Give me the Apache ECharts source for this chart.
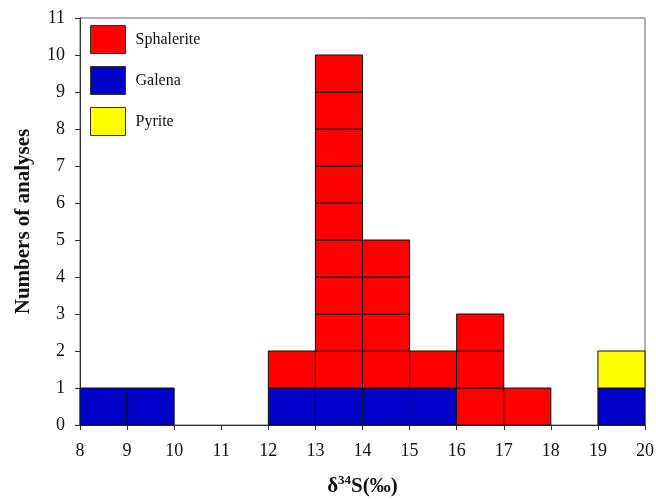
<!DOCTYPE html>
<html><head><meta charset="utf-8">
<script src="https://cdn.jsdelivr.net/npm/echarts@6/dist/echarts.min.js"></script>
<style>html,body{margin:0;padding:0;background:#fff}#c{width:656px;height:500px}</style>
</head><body><div id="c"></div>
<script>
// Bin lower edges (δ34S ‰), each bin is 1 ‰ wide
const binStarts = [8, 9, 10, 11, 12, 13, 14, 15, 16, 17, 18, 19];
const galena     = [1, 1, 0, 0, 1, 1, 1, 1, 0, 0, 0, 1];
const sphalerite = [0, 0, 0, 0, 1, 9, 4, 1, 3, 1, 0, 0];
const pyrite     = [0, 0, 0, 0, 0, 0, 0, 0, 0, 0, 0, 1];
const yTicks = [0,1,2,3,4,5,6,7,8,9,10,11];
const xTicks = [8,9,10,11,12,13,14,15,16,17,18,19,20];

const serif = 'Liberation Serif';
function stackData(counts, lowers) {
  return binStarts.map((b, i) => {
    let base = 0;
    lowers.forEach(arr => base += arr[i]);
    return [b, b + 1, base, counts[i]];
  });
}
function renderCells(params, api) {
  const x0 = api.value(0), x1 = api.value(1), base = api.value(2), n = api.value(3);
  const children = [];
  for (let k = 0; k < n; k++) {
    const p0 = api.coord([x0, base + k]);
    const p1 = api.coord([x1, base + k + 1]);
    children.push({
      type: 'rect',
      shape: { x: p0[0], y: p1[1], width: p1[0] - p0[0], height: p0[1] - p1[1] },
      style: api.style()
    });
  }
  return { type: 'group', children };
}
function mk(name, color, counts, lowers) {
  return {
    name, type: 'custom', renderItem: renderCells,
    encode: { x: [0, 1], y: [2] },
    itemStyle: { color, borderColor: '#111', borderWidth: 1 },
    data: stackData(counts, lowers)
  };
}
const chart = echarts.init(document.getElementById('c'), null, { renderer: 'canvas' });
chart.setOption({
  animation: false,
  backgroundColor: '#fff',
  grid: { left: 80, right: 11, top: 18, bottom: 75, show: true, borderColor: '#666', borderWidth: 1,
          containLabel: false, outerBoundsMode: 'none' },
  legend: {
    orient: 'vertical', left: 85, top: 20, itemWidth: 35, itemHeight: 28, itemGap: 12,
    icon: 'rect', selectedMode: false,
    itemStyle: { borderColor: '#333', borderWidth: 1 },
    textStyle: { fontFamily: serif, fontSize: 16, color: '#111', padding: [2, 0, 0, 5] },
    data: ['Sphalerite', 'Galena', 'Pyrite']
  },
  xAxis: {
    type: 'value', min: 8, max: 20, interval: 1,
    name: '{d|δ}{s|34}{d|S(‰)}', nameLocation: 'middle', nameGap: 49,
    nameTextStyle: { rich: {
      d: { fontFamily: serif, fontWeight: 'bold', fontSize: 21, lineHeight: 26, color: '#111' },
      s: { fontFamily: serif, fontWeight: 'bold', fontSize: 13, lineHeight: 13, color: '#111', verticalAlign: 'top' }
    } },
    axisLine: { lineStyle: { color: '#333' } },
    axisTick: { length: 5, lineStyle: { color: '#333' } },
    axisLabel: { fontFamily: serif, fontSize: 18, color: '#111', margin: 17,
      formatter: v => xTicks.includes(v) ? String(v) : '' },
    splitLine: { show: false }
  },
  yAxis: {
    type: 'value', min: 0, max: 11, interval: 1,
    name: 'Numbers of analyses', nameLocation: 'middle', nameGap: 46, nameRotate: 90,
    nameTextStyle: { fontFamily: serif, fontWeight: 'bold', fontSize: 21, color: '#111' },
    axisLine: { show: true, lineStyle: { color: '#333' } },
    axisTick: { show: true, length: 5, lineStyle: { color: '#333' } },
    axisLabel: { fontFamily: serif, fontSize: 18, color: '#111', margin: 15,
      formatter: v => yTicks.includes(v) ? String(v) : '' },
    splitLine: { show: false }
  },
  series: [
    mk('Galena', '#0000C8', galena, []),
    mk('Sphalerite', '#FF0000', sphalerite, [galena]),
    mk('Pyrite', '#FFFF00', pyrite, [galena, sphalerite])
  ]
});
</script></body></html>
